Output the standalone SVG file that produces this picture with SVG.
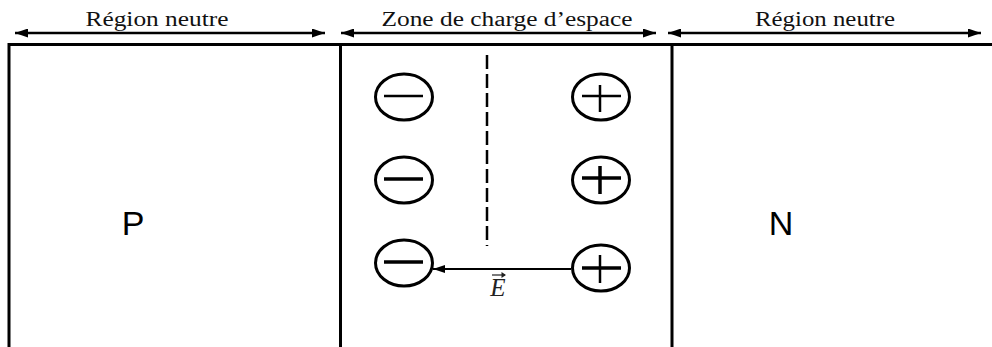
<svg xmlns="http://www.w3.org/2000/svg" width="992" height="347" viewBox="0 0 992 347">
<style>
.frame{fill:none;stroke:#000;stroke-width:3}
.dim{stroke:#000;stroke-width:2.5;fill:none}
.lbl{font-family:"Liberation Serif","Times New Roman",serif;font-size:20px;fill:#111}
.big{font-family:"Liberation Sans",Arial,sans-serif;font-size:34px;fill:#000}
.ion{fill:none;stroke:#000;stroke-width:3}
.sign{stroke:#000;stroke-width:2.5}
.sign2{stroke:#000;stroke-width:3.5}
</style>
<defs>
<marker id="ah" viewBox="0 0 13 9" refX="13" refY="4.5" markerWidth="13" markerHeight="9" markerUnits="userSpaceOnUse" orient="auto-start-reverse">
<path d="M0,0 L13,4.5 L0,9 Z" fill="#000"/>
</marker>
<marker id="ah2" viewBox="0 0 12 8" refX="12" refY="4" markerWidth="12" markerHeight="8" markerUnits="userSpaceOnUse" orient="auto">
<path d="M0,0 L12,4 L0,8 Z" fill="#000"/>
</marker>
</defs>
<rect width="992" height="347" fill="#fff"/>
<g id="frame">
<path class="frame" d="M9,347 V44.5 H992 M340.5,44.5 V347 M672,44.5 V347"/>
</g>
<g id="connectors">
<line class="dim" x1="15" y1="33" x2="325" y2="33" marker-start="url(#ah)" marker-end="url(#ah)"/>
<line class="dim" x1="341" y1="33" x2="656" y2="33" marker-start="url(#ah)" marker-end="url(#ah)"/>
<line class="dim" x1="668" y1="33" x2="981" y2="33" marker-start="url(#ah)" marker-end="url(#ah)"/>
<line x1="487" y1="55" x2="487" y2="246" stroke="#000" stroke-width="2.5" stroke-dasharray="14,5"/>
<line x1="571" y1="269" x2="433" y2="269" stroke="#000" stroke-width="2" marker-end="url(#ah2)"/>
</g>
<g id="labels">
<text class="lbl" x="157" y="25.5" text-anchor="middle" textLength="143" lengthAdjust="spacingAndGlyphs">Région neutre</text>
<text class="lbl" x="507" y="25.5" text-anchor="middle" textLength="251" lengthAdjust="spacingAndGlyphs">Zone de charge d’espace</text>
<text class="lbl" x="825" y="25.5" text-anchor="middle" textLength="140" lengthAdjust="spacingAndGlyphs">Région neutre</text>
</g>
<g id="P"><text class="big" x="133" y="235" text-anchor="middle">P</text></g>
<g id="N"><text class="big" x="781" y="235" text-anchor="middle">N</text></g>
<g id="neg1"><ellipse class="ion" cx="404" cy="97" rx="28.5" ry="23"/><line class="sign" x1="384" y1="96" x2="423" y2="96"/></g>
<g id="neg2"><ellipse class="ion" cx="404" cy="180" rx="28.5" ry="23"/><line class="sign2" x1="384" y1="179" x2="423" y2="179"/></g>
<g id="neg3"><ellipse class="ion" cx="404" cy="263" rx="28.5" ry="23"/><line class="sign2" x1="384" y1="262" x2="423" y2="262"/></g>
<g id="pos1"><ellipse class="ion" cx="601" cy="97" rx="28.5" ry="23"/><line class="sign" x1="582" y1="96" x2="621" y2="96"/><line class="sign" x1="600" y1="85" x2="600" y2="112"/></g>
<g id="pos2"><ellipse class="ion" cx="601" cy="180" rx="28.5" ry="23"/><line class="sign2" x1="582" y1="178" x2="621" y2="178"/><line class="sign2" x1="600" y1="166" x2="600" y2="194"/></g>
<g id="pos3"><ellipse class="ion" cx="601" cy="268" rx="28.5" ry="23"/><line class="sign2" x1="582" y1="268" x2="621" y2="268"/><line class="sign" x1="600" y1="255" x2="600" y2="283"/></g>
<g id="E">
<text x="498" y="296" text-anchor="middle" font-family="Liberation Serif,'Times New Roman',serif" font-style="italic" font-size="25" fill="#222">E</text>
<path d="M492,275 H505" stroke="#222" stroke-width="1.2"/>
<path d="M501.5,272 L506,275 L501.5,278 Z" fill="#222"/>
</g>
</svg>
